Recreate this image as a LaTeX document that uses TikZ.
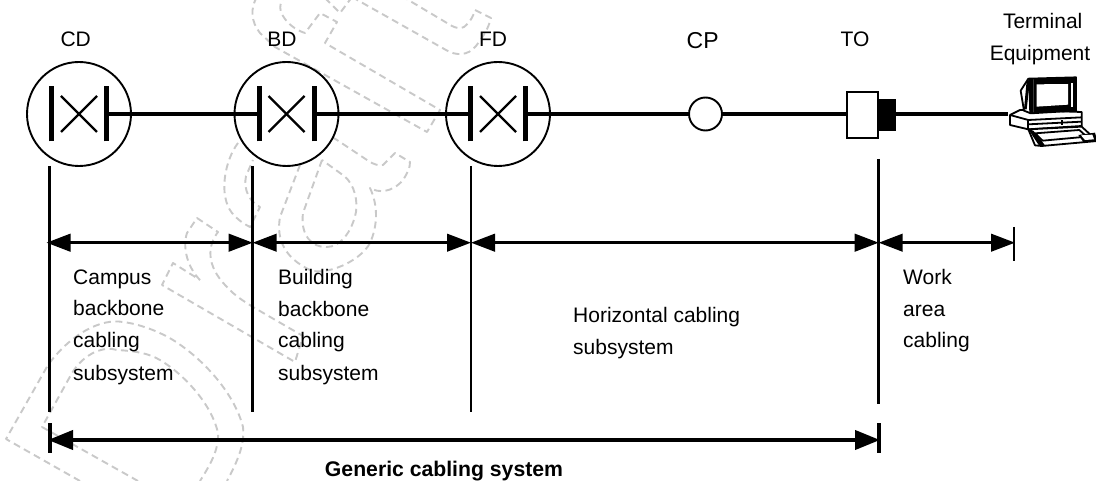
\documentclass[tikz,border=0pt]{standalone}
\usepackage{fontspec}
\setmainfont{Liberation Sans}
\usetikzlibrary{arrows.meta}
\tikzset{
  wm/.style={draw=black!21,line width=1.9pt,dash pattern=on 7pt off 4.5pt,line join=round},
  switchring/.style={circle,draw,fill=white,line width=1.9pt,minimum size=104pt,inner sep=0pt},
  wire/.style={line width=4.8pt},
  bar/.style={line width=5pt},
  cross/.style={line width=2.2pt},
  drop/.style={line width=2.5pt},
  dimline/.style={line width=2.7pt,{Triangle[length=24pt,width=17.5pt]}-{Triangle[length=24pt,width=17.5pt]}},
  sysline/.style={line width=4pt,{Triangle[length=25pt,width=19pt]}-{Triangle[length=25pt,width=19pt]}},
  lbl/.style={anchor=base west,inner sep=0pt,font=\fontsize{21}{24}\selectfont},
  head/.style={anchor=base,inner sep=0pt,font=\fontsize{21}{24}\selectfont},
  pcline/.style={draw=black,line width=1.8pt,line join=round}
}
\begin{document}
\begin{tikzpicture}[x=1pt,y=-1pt]
\useasboundingbox (0,0) rectangle (1096,481);
\fill[white] (0,0) rectangle (1096,481);
% watermark
\begin{scope}
\clip (0,0) rectangle (1096,481);
% D
\draw[wm] (80,481) -- (6,439) -- (48,365) .. controls (70,335) and (100,318) .. (123,322) .. controls (140,324) and (160,332) .. (173,340) .. controls (205,360) and (235,395) .. (243,427) .. controls (245,445) and (237,462) .. (227,481);
\draw[wm] (138,481) -- (42,427) -- (72,373) .. controls (85,352) and (105,346) .. (117,350) .. controls (135,351) and (148,353) .. (160,360) .. controls (185,375) and (212,405) .. (218,433) .. controls (219,450) and (210,465) .. (200,481);
% r
\draw[wm] (200,280) .. controls (188,268) and (182,248) .. (187,233) -- (197,218) -- (218,232) .. controls (208,245) and (205,265) .. (227,287) .. controls (235,296) and (245,302) .. (253,307) -- (303,336) -- (295,362) -- (162,285) -- (173,263) -- (200,280);
% a
\draw[wm] (238,143) .. controls (225,160) and (218,195) .. (232,213) .. controls (238,220) and (244,224) .. (250,227) -- (260,207) .. controls (250,202) and (243,190) .. (246,176) -- (253,160);
\draw[wm] (300,165) -- (280,217) .. controls (276,240) and (285,258) .. (310,270) .. controls (325,276) and (360,262) .. (370,243) .. controls (378,225) and (378,205) .. (370,188) .. controls (378,193) and (392,193) .. (403,180) .. controls (408,172) and (410,168) .. (410,162) -- (395,153) -- (383,165) .. controls (378,166) and (374,164) .. (370,162) -- (337,140) -- (320,130);
\draw[wm] (322,160) -- (303,213) .. controls (300,235) and (312,248) .. (327,247) .. controls (340,247) and (352,232) .. (356,212) .. controls (358,195) and (352,180) .. (340,173) -- (322,160);
% f
\draw[wm] (257,-3) .. controls (250,8) and (251,22) .. (260,33) -- (275,47) -- (427,132) -- (440,110) -- (325,43) -- (337,22) -- (320,13) -- (305,33) .. controls (295,30) and (285,22) .. (281,12) .. controls (279,6) and (281,2) .. (284,-3);
\draw[wm] (325,-2) -- (340,13) -- (352,-3);
\draw[wm] (352,-3) -- (446,50) .. controls (456,56) and (468,56) .. (476,46) .. controls (482,38) and (488,30) .. (491,18) -- (475,10) .. controls (473,18) and (468,24) .. (464,27) .. controls (460,29) and (456,28) .. (452,26) -- (405,-2);
\end{scope}
% rings
\node[switchring] (cd) at (79,114) {};
\node[switchring] (bd) at (286.5,114) {};
\node[switchring] (fd) at (498,114) {};
\foreach \n in {cd,bd,fd}{
  \coordinate (\n L) at ([xshift=-27.3pt]\n.center);
  \coordinate (\n R) at ([xshift=27.7pt]\n.center);
  \draw[bar] ([yshift=-27.5pt]\n L) -- ([yshift=27.5pt]\n L);
  \draw[bar] ([yshift=-27.5pt]\n R) -- ([yshift=27.5pt]\n R);
  \draw[cross] ([shift={(-18pt,-18pt)}]\n.center) -- ([shift={(18pt,18pt)}]\n.center);
  \draw[cross] ([shift={(-18pt,18pt)}]\n.center) -- ([shift={(18pt,-18pt)}]\n.center);
}
% outlet and consolidation point
\node[circle,draw,fill=white,line width=1.9pt,minimum size=33pt,inner sep=0pt] (cp) at (705.5,114) {};
\node[draw,fill=white,line width=1.6pt,minimum width=31pt,minimum height=46pt,inner sep=0pt,anchor=east] (to) at (879,114.8) {};
\node[fill=black,minimum width=17pt,minimum height=32pt,inner sep=0pt,anchor=west] (plug) at (879,115) {};
\coordinate (pcin) at (1008,114);
% wires
\draw[wire] (cdR) -- (bdL);
\draw[wire] (bdR) -- (fdL);
\draw[wire] (fdR) -- (cp);
\draw[wire] (cp) -- (to.west |- cp);
\draw[wire] (plug.east |- pcin) -- (pcin);
% computer
\begin{scope}[shift={(1000,70)},scale=1/3]
 \filldraw[pcline,fill=white] (30,135) -- (60,120) -- (245,126) -- (245,168) -- (85,178) -- (30,165) -- cycle;
 \draw[pcline] (30,135) -- (85,150) -- (245,142);
 \draw[pcline] (85,150) -- (85,178);
 \draw[pcline] (85,163) -- (245,155);
 \draw[pcline] (185,150) -- (185,165);
 \filldraw[pcline,fill=white] (85,178) -- (245,170) -- (292,213) -- (125,228) -- (105,226) -- cycle;
 \draw[pcline] (105,190) -- (238,180) -- (260,200) -- (128,212) -- cycle;
 \fill[black] (100,182) -- (85,178) -- (118,228) -- (135,226) -- cycle;
 \fill[black] (235,195) -- (285,188) -- (292,213) -- (250,216) -- cycle;
 \fill[white] (243,196) -- (277,194) -- (282,208) -- (255,210) -- cycle;
 \filldraw[pcline,fill=white] (62,62) -- (85,26) -- (228,22) -- (228,122) -- (92,130) -- (72,122) -- cycle;
 \fill[black] (85,26) -- (100,26) -- (100,130) -- (88,130) -- cycle;
 \fill[black] (80,32) -- (90,30) -- (80,118) -- (72,118) -- cycle;
 \fill[black] (100,26) -- (228,22) -- (228,122) -- (100,130) -- cycle;
 \fill[white] (110,43) -- (204,42) -- (204,104) -- (110,110) -- cycle;
 \fill[white] (212,40) -- (220,40) -- (220,110) -- (212,110) -- cycle;
\end{scope}
% drop lines
\coordinate (vcdT) at (49.5,166);  \coordinate (vcdB) at (49.5,412);
\coordinate (vbdT) at (252.7,166); \coordinate (vbdB) at (252.7,412);
\coordinate (vfdT) at (471,166);   \coordinate (vfdB) at (471,412);
\coordinate (vtoT) at (878.7,159); \coordinate (vtoB) at (878.7,404);
\coordinate (vwT)  at (1014,227);  \coordinate (vwB)  at (1014,261);
\foreach \a/\b in {vcdT/vcdB,vbdT/vbdB,vfdT/vfdB,vtoT/vtoB,vwT/vwB}{\draw[drop] (\a) -- (\b);}
% dimension arrows
\coordinate (dcd) at (46.5,242.7);
\coordinate (dbd) at (252.7,242.7);
\coordinate (dfd) at (471,242.7);
\coordinate (dto) at (878.7,242.7);
\coordinate (dw)  at (1015,242.7);
\draw[dimline] (dcd) -- (dbd);
\draw[dimline] (dbd) -- (dfd);
\draw[dimline] (dfd) -- (dto);
\draw[dimline] (dto) -- (dw);
% generic arrow
\coordinate (gL) at (48,440);
\coordinate (gR) at (880,440);
\draw[sysline] (gL) -- (gR);
\draw[line width=4pt] (50,423) -- (50,453);
\draw[line width=4pt] (878.7,423) -- (878.7,453);
% heads
\node[head] (tcd) at (75.7,46.8) {CD};
\node[head] (tbd) at (282,46.8) {BD};
\node[head] (tfd) at (493,46.8) {FD};
\node[head,font=\fontsize{23}{26}\selectfont] (tcp) at (702.7,48.5) {CP};
\node[head] (tto) at (855,47) {TO};
\node[head] (tt1) at (1042.7,29) {Terminal};
\node[head] (tt2) at (1040,61) {Equipment};
% labels
\node[lbl] (c1) at (73,285) {Campus};
\node[lbl] (c2) at (73,316) {backbone};
\node[lbl] (c3) at (73,348) {cabling};
\node[lbl] (c4) at (73,381) {subsystem};
\node[lbl] (b1) at (278,285) {Building};
\node[lbl] (b2) at (278,316.5) {backbone};
\node[lbl] (b3) at (278,348) {cabling};
\node[lbl] (b4) at (278,381) {subsystem};
\node[lbl] (h1) at (573,323) {Horizontal cabling};
\node[lbl] (h2) at (573,354.5) {subsystem};
\node[lbl] (w1) at (903,285) {Work};
\node[lbl] (w2) at (903,316.5) {area};
\node[lbl] (w3) at (903,348) {cabling};
\node[anchor=base,inner sep=0pt,font=\fontsize{21.2}{24}\selectfont\bfseries] (gen) at (444,476) {Generic cabling system};
\end{tikzpicture}
\end{document}
